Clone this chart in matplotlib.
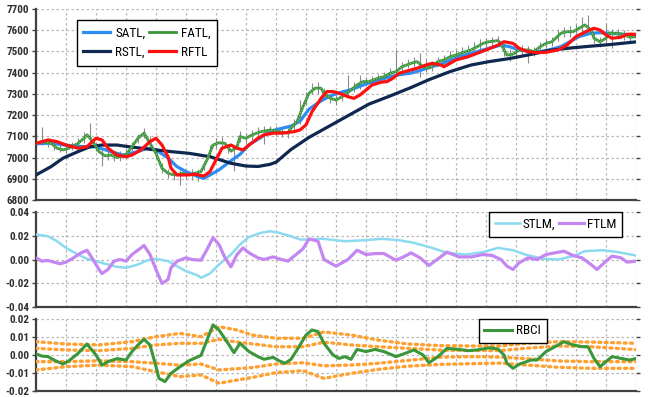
import matplotlib
matplotlib.use("Agg")
import matplotlib.pyplot as plt
from matplotlib import font_manager
from matplotlib.font_manager import FontProperties
from matplotlib.lines import Line2D

# ---------------- data (bar index 0..200) ----------------
bar_i = [0, 2, 4, 6, 8, 10, 12, 14, 16, 18, 20, 22, 24, 26, 28, 30, 32, 34, 36, 38,
         40, 42, 44, 46, 48, 50, 52, 54, 56, 58, 60, 62, 64, 66, 68, 70, 72, 74, 76, 78,
         80, 82, 84, 86, 88, 90, 92, 94, 96, 98, 100, 102, 104, 106, 108, 110, 112, 114, 116, 118,
         120, 122, 124, 126, 128, 130, 132, 134, 136, 138, 140, 142, 144, 146, 148, 150, 152, 154, 156, 158,
         160, 162, 164, 166, 168, 170, 172, 174, 176, 178, 180, 182, 184, 186, 188, 190, 192, 194, 196, 198, 200]
bar_lo = [7050, 7060, 7050, 7035, 7025, 7020, 7035, 7050, 7070, 7075, 7030, 6960, 6990, 6985, 6985, 6995, 7030, 7070, 7090, 7050,
          6995, 6925, 6905, 6895, 6870, 6900, 6895, 6888, 6940, 7010, 7045, 7045, 7020, 6935, 7075, 7070, 7085, 7095, 7065, 7105,
          7100, 7095, 7090, 7120, 7160, 7250, 7300, 7300, 7280, 7255, 7250, 7265, 7280, 7310, 7325, 7335, 7340, 7350, 7360, 7375,
          7385, 7405, 7420, 7425, 7380, 7405, 7410, 7430, 7440, 7450, 7460, 7470, 7480, 7490, 7505, 7520, 7525, 7530, 7480, 7455,
          7470, 7485, 7445, 7480, 7500, 7515, 7525, 7550, 7570, 7570, 7580, 7590, 7580, 7540, 7520, 7540, 7516, 7565, 7555, 7550, 7555]
bar_hi = [7085, 7145, 7085, 7075, 7060, 7060, 7075, 7090, 7120, 7165, 7075, 7035, 7030, 7025, 7030, 7040, 7075, 7110, 7140, 7100,
          7045, 6975, 6945, 6935, 6940, 6940, 6945, 6945, 6985, 7060, 7090, 7095, 7065, 7060, 7125, 7115, 7130, 7145, 7150, 7150,
          7150, 7145, 7140, 7180, 7270, 7310, 7350, 7356, 7330, 7300, 7295, 7310, 7389, 7355, 7390, 7380, 7385, 7395, 7405, 7420,
          7507, 7450, 7465, 7475, 7493, 7465, 7455, 7475, 7485, 7500, 7505, 7520, 7530, 7545, 7560, 7565, 7570, 7575, 7540, 7510,
          7520, 7530, 7525, 7520, 7545, 7560, 7570, 7600, 7615, 7620, 7630, 7662, 7672, 7590, 7570, 7634, 7605, 7605, 7600, 7590, 7590]

fatl_i = [0, 2, 5, 7, 9, 11, 14, 16, 17, 19, 21, 23, 25, 27, 30, 32, 34, 36, 37, 40,
          42, 44, 46, 49, 51, 53, 55, 57, 59, 61, 63, 65, 67, 68, 70, 72, 75, 78, 81, 84,
          85, 87, 89, 91, 93, 95, 96, 98, 100, 102, 105, 107, 109, 111, 114, 116, 118, 120, 122, 125,
          127, 129, 131, 134, 136, 138, 140, 142, 145, 147, 149, 151, 154, 155, 156, 157, 159, 161, 164, 166,
          168, 170, 172, 175, 177, 179, 181, 183, 185, 186, 188, 190, 191, 194, 196, 198, 200]
fatl_v = [7067, 7075, 7067, 7044, 7036, 7044, 7067, 7091, 7107, 7075, 7028, 7008, 7012, 7001, 7012, 7051, 7091, 7115, 7091, 7020,
          6950, 6926, 6918, 6926, 6918, 6926, 6934, 6989, 7059, 7070, 7067, 7030, 7050, 7099, 7091, 7107, 7122, 7130, 7122, 7115,
          7138, 7169, 7240, 7303, 7327, 7327, 7303, 7280, 7271, 7287, 7318, 7342, 7358, 7358, 7374, 7381, 7397, 7405, 7428, 7444,
          7452, 7428, 7421, 7452, 7460, 7475, 7483, 7494, 7507, 7522, 7538, 7546, 7551, 7538, 7507, 7483, 7487, 7507, 7507, 7499,
          7522, 7538, 7546, 7586, 7593, 7593, 7609, 7625, 7601, 7562, 7546, 7562, 7586, 7586, 7578, 7567, 7570]

satl_i = [0, 5, 10, 15, 20, 25, 29, 34, 37, 40, 44, 47, 50, 54, 56, 58, 61, 65, 68, 71,
          75, 78, 82, 85, 88, 91, 95, 98, 101, 105, 108, 111, 115, 118, 121, 125, 128, 131, 135, 138,
          141, 145, 148, 151, 155, 158, 161, 165, 168, 171, 175, 178, 181, 185, 188, 191, 195, 198, 200]
satl_v = [7065, 7068, 7058, 7052, 7050, 7028, 7012, 7028, 7044, 7036, 6998, 6957, 6934, 6910, 6902, 6918, 6942, 6985, 7015, 7060,
          7095, 7124, 7138, 7148, 7171, 7228, 7267, 7290, 7305, 7320, 7336, 7352, 7367, 7381, 7390, 7398, 7410, 7425, 7440, 7458,
          7475, 7491, 7503, 7515, 7530, 7522, 7507, 7499, 7499, 7507, 7523, 7546, 7570, 7586, 7588, 7586, 7582, 7578, 7578]

rstl_i = [0, 5, 9, 14, 18, 22, 27, 31, 38, 45, 51, 58, 65, 70, 74, 78, 80, 85, 91, 98,
          105, 111, 118, 125, 131, 138, 145, 151, 158, 165, 171, 178, 185, 191, 200]
rstl_v = [6918, 6957, 6997, 7028, 7051, 7059, 7059, 7051, 7039, 7028, 7020, 7004, 6973, 6960, 6958, 6968, 6978, 7038, 7095, 7150,
          7205, 7252, 7290, 7330, 7367, 7405, 7436, 7452, 7467, 7486, 7505, 7516, 7525, 7532, 7545]

rftl_i = [0, 4, 7, 10, 14, 17, 20, 22, 24, 27, 30, 32, 35, 38, 40, 42, 44, 45, 47, 50,
          53, 56, 58, 60, 62, 65, 67, 69, 71, 74, 76, 79, 82, 86, 88, 90, 92, 95, 97, 99,
          101, 104, 106, 108, 110, 112, 115, 117, 119, 121, 124, 127, 130, 132, 135, 136, 138, 140, 144, 147,
          150, 154, 156, 159, 161, 164, 167, 170, 174, 177, 180, 184, 186, 188, 190, 192, 195, 197, 200]
rftl_v = [7067, 7083, 7075, 7059, 7044, 7051, 7091, 7083, 7044, 7012, 7004, 7012, 7036, 7075, 7091, 7059, 7004, 6950, 6918, 6918,
          6921, 6913, 6934, 6989, 7044, 7059, 7044, 7036, 7059, 7091, 7107, 7115, 7115, 7122, 7130, 7154, 7216, 7279, 7311, 7311,
          7303, 7287, 7279, 7295, 7318, 7342, 7355, 7358, 7374, 7397, 7409, 7421, 7436, 7444, 7436, 7428, 7444, 7460, 7475, 7491,
          7507, 7530, 7546, 7538, 7515, 7499, 7494, 7496, 7507, 7530, 7570, 7598, 7609, 7601, 7578, 7562, 7567, 7581, 7581]

stlm_i = [0, 4, 7, 10, 14, 17, 20, 24, 27, 30, 34, 37, 40, 44, 47, 50, 54, 55, 58, 61,
          65, 68, 71, 75, 78, 81, 85, 88, 91, 95, 103, 110, 115, 121, 126, 132, 137, 143, 149, 154,
          159, 163, 169, 174, 179, 183, 189, 194, 200]
stlm_v = [0.021, 0.0196, 0.0154, 0.0098, 0.0042, 0.0006, -0.0014, -0.0042, -0.0062, -0.007, -0.0042, -0.0008, 0.0006, -0.0014, -0.0056, -0.0098, -0.0135, -0.0154, -0.0118, -0.0042,
          0.0042, 0.0126, 0.019, 0.0225, 0.0238, 0.0225, 0.0196, 0.0168, 0.0168, 0.0176, 0.0154, 0.0163, 0.0174, 0.0163, 0.014, 0.0098, 0.0056, 0.0042, 0.0062, 0.0098,
          0.0078, 0.0042, 0.0006, 0.0, 0.0028, 0.007, 0.0078, 0.0062, 0.0034]

ftlm_i = [0, 2, 4, 6, 8, 10, 12, 15, 17, 19, 21, 22, 24, 26, 28, 30, 32, 35, 36, 38,
          40, 42, 44, 45, 47, 50, 52, 55, 57, 59, 61, 63, 65, 67, 69, 71, 74, 76, 79, 81,
          84, 86, 89, 91, 94, 96, 100, 102, 104, 107, 110, 113, 116, 120, 123, 125, 128, 131, 134, 137,
          141, 145, 149, 152, 155, 157, 159, 161, 164, 167, 170, 173, 176, 179, 182, 185, 187, 190, 192, 195, 197, 200]
ftlm_v = [0.0014, -0.0014, -0.0008, -0.0022, -0.0036, -0.0022, 0.0006, 0.0056, 0.0078, 0.0, -0.0084, -0.0118, -0.0084, -0.0014, 0.0, -0.0014, 0.0042, 0.0098, 0.0118, 0.0042,
          -0.0084, -0.0202, -0.0168, -0.007, -0.0014, 0.0014, 0.0, -0.0006, 0.0084, 0.0183, 0.0126, 0.0014, -0.0062, 0.0042, 0.0098, 0.0056, 0.0014, 0.0, 0.0022, 0.0006,
          -0.0014, 0.0028, 0.009, 0.0174, 0.0154, 0.0, -0.0056, -0.0028, 0.0, 0.0078, 0.0042, 0.005, 0.005, -0.0006, 0.0028, 0.0056, 0.0014, -0.005, 0.0006, 0.0062,
          0.0022, 0.0022, 0.0042, 0.0034, 0.0, -0.0056, -0.0084, -0.0028, 0.0014, 0.0, 0.0042, 0.0056, 0.007, 0.0034, 0.0014, -0.0042, -0.0084, -0.0014, 0.0028, 0.0014, -0.0022, -0.0014]

rbci_i = [0, 2, 4, 6, 9, 11, 14, 17, 20, 22, 24, 27, 30, 32, 34, 36, 38, 40, 41, 43,
          45, 48, 51, 55, 57, 59, 61, 64, 66, 68, 71, 74, 76, 79, 81, 83, 85, 87, 90, 92,
          94, 96, 99, 101, 103, 105, 107, 110, 113, 116, 120, 123, 126, 129, 131, 134, 137, 141, 144, 147,
          151, 154, 156, 157, 159, 161, 165, 167, 170, 173, 176, 179, 182, 184, 186, 188, 190, 192, 195, 198, 200]
rbci_v = [0.0006, -0.0006, -0.0009, -0.0028, -0.005, -0.0032, 0.0009, 0.0061, 0.0, -0.0056, -0.0037, -0.002, -0.0028, 0.0019, 0.0056, 0.0087, 0.0056, -0.0065, -0.013, -0.0148,
          -0.0102, -0.0065, -0.0032, -0.0002, 0.0083, 0.0167, 0.0139, 0.0065, 0.0013, 0.0065, 0.0019, -0.0009, -0.0024, -0.0013, -0.0032, -0.0046, -0.0024, 0.0028, 0.0111, 0.0139,
          0.013, 0.0065, 0.0, -0.0019, -0.0009, -0.0024, 0.0031, 0.0019, 0.0031, 0.0019, -0.0009, 0.0009, 0.0028, 0.0, -0.0043, -0.0009, 0.0037, 0.0031, 0.0024, 0.0028,
          0.004, 0.0033, 0.0, -0.0046, -0.0074, -0.0052, -0.0028, -0.0028, 0.0019, 0.0046, 0.0074, 0.0056, 0.0046, 0.0046, -0.0019, -0.0065, -0.0037, -0.0009, -0.0019, -0.0028, -0.0019]

band_i = [0, 10, 21, 32, 40, 48, 55, 61, 67, 72, 80, 89, 96, 105, 114, 124, 135, 146, 155, 163, 174, 185, 200]
band_up2 = [0.0074, 0.0061, 0.0056, 0.0074, 0.0102, 0.012, 0.0102, 0.0157, 0.0139, 0.0111, 0.0093, 0.0093, 0.0128, 0.0111, 0.0083, 0.0061, 0.0052, 0.005, 0.005, 0.0065, 0.0074, 0.0072, 0.0065]
band_up1 = [0.0037, 0.0028, 0.0024, 0.0037, 0.0056, 0.0065, 0.0065, 0.0087, 0.0072, 0.0062, 0.0046, 0.0046, 0.0071, 0.0056, 0.0046, 0.0037, 0.0027, 0.0025, 0.0025, 0.0037, 0.005, 0.0046, 0.003]
band_dn1 = [-0.0037, -0.0037, -0.0032, -0.0037, -0.0046, -0.0056, -0.005, -0.0083, -0.0076, -0.007, -0.005, -0.0043, -0.006, -0.0056, -0.0046, -0.003, -0.0012, -0.0009, -0.0012, -0.002, -0.0033, -0.0037, -0.0037]
band_dn2 = [-0.0083, -0.0065, -0.0056, -0.0065, -0.0093, -0.012, -0.0111, -0.0157, -0.0139, -0.0125, -0.0098, -0.0087, -0.013, -0.0102, -0.008, -0.0062, -0.0052, -0.0048, -0.0045, -0.0055, -0.0068, -0.0074, -0.0074]

price_ticks = [6800, 6900, 7000, 7100, 7200, 7300, 7400, 7500, 7600, 7700]
mid_ticks = [-0.04, -0.02, 0.0, 0.02, 0.04]
low_ticks = [-0.02, -0.01, 0.0, 0.01, 0.02]

# ---------------- fonts: look for a narrow / condensed face ----------------
def find_condensed(bold):
    best = None
    for f in font_manager.fontManager.ttflist:
        if not f.fname.lower().endswith(('.ttf', '.otf')):
            continue
        nm = f.name + ' ' + f.fname
        cond = ('Narrow' in nm or 'Condensed' in nm or str(f.stretch) in ('condensed', 'semi-condensed', '75', '87'))
        if not cond or f.style != 'normal':
            continue
        w = f.weight if isinstance(f.weight, int) else (700 if 'bold' in str(f.weight) else 400)
        isbold = w >= 600
        if isbold != bold:
            continue
        score = 0
        if 'Liberation' in nm:
            score = 3
        elif 'Roboto' in nm:
            score = 2
        elif 'DejaVu' in nm:
            score = 1
        if best is None or score > best[0]:
            best = (score, f.fname)
    return best[1] if best else None


reg_path = find_condensed(False)
bold_path = find_condensed(True) or reg_path


def fp(size, bold=False):
    path = bold_path if bold else reg_path
    if path:
        return FontProperties(fname=path, size=size)
    return FontProperties(family='DejaVu Sans', size=size * 0.85,
                          weight='bold' if bold else 'normal')


# ---------------- style ----------------
C_SATL = '#2f8cf0'
C_FATL = '#3a963a'
C_RSTL = '#0e2850'
C_RFTL = '#ff1010'
C_STLM = '#8cdaf0'
C_FTLM = '#c487f2'
C_RBCI = '#3a963a'
C_BAND = '#ffa030'
GRID = '#b8b8b8'
SPINE = '#404040'

fig = plt.figure(figsize=(6.5, 3.97), dpi=100)
fig.patch.set_facecolor('white')

W = 650.0
H = 397.0
left = 36 / W
width = 600 / W


def make_ax(top_px, bot_px, ticks, labels, ylim):
    ax = fig.add_axes([left, 1 - bot_px / H, width, (bot_px - top_px) / H])
    ax.set_xlim(0, 200)
    ax.set_ylim(*ylim)
    ax.set_xticks(range(0, 201, 10))
    ax.tick_params(axis='x', length=0, labelbottom=False)
    ax.set_yticks(ticks)
    ax.set_yticklabels(labels)
    ax.tick_params(axis='y', length=3, width=1, color=SPINE,
                   labelcolor='#303030', pad=2, right=True, left=True)
    for lab in ax.get_yticklabels():
        lab.set_fontproperties(fp(8, bold=True))
    ax.grid(True, color=GRID, linestyle=(0, (2, 2)), linewidth=0.9)
    ax.set_axisbelow(True)
    ax.spines['top'].set_visible(False)
    ax.spines['right'].set_visible(False)
    ax.spines['left'].set_color(SPINE)
    ax.spines['left'].set_linewidth(1.6)
    ax.spines['bottom'].set_color(SPINE)
    ax.spines['bottom'].set_linewidth(1.6)
    return ax


LEG_SIZE = 9.5

# top panel
ax1 = make_ax(9, 200, price_ticks, [str(v) for v in price_ticks], (6800, 7700))
ax1.vlines(bar_i, bar_lo, bar_hi, color='#8a8a8a', linewidth=0.8, zorder=2)
ax1.plot(satl_i, satl_v, color=C_SATL, lw=2.3, zorder=3, solid_capstyle='round')
ax1.plot(rstl_i, rstl_v, color=C_RSTL, lw=2.3, zorder=4, solid_capstyle='round')
ax1.plot(fatl_i, fatl_v, color=C_FATL, lw=2.0, zorder=5, solid_capstyle='round')
ax1.plot(fatl_i, fatl_v, color='#9ad09a', lw=0.7, ls=(0, (1, 2)), zorder=5)
ax1.plot(rftl_i, rftl_v, color=C_RFTL, lw=2.3, zorder=6, solid_capstyle='round')

h1 = [Line2D([], [], color=C_SATL, lw=2.3), Line2D([], [], color=C_RSTL, lw=2.3),
      Line2D([], [], color=C_FATL, lw=2.0), Line2D([], [], color=C_RFTL, lw=2.3)]
leg1 = ax1.legend(h1, ['SATL,', 'RSTL,', 'FATL,', 'RFTL'], ncol=2, loc='upper left',
                  bbox_to_anchor=(0.068, 0.94), prop=fp(LEG_SIZE), frameon=True, fancybox=False,
                  edgecolor='black', framealpha=1, handlelength=2.0, handletextpad=0.4,
                  columnspacing=0.3, labelspacing=0.45, borderpad=0.5, borderaxespad=0)
leg1.get_frame().set_linewidth(1.0)
leg1.set_zorder(10)

# middle panel
ax2 = make_ax(212, 307, mid_ticks, [f"{v:.2f}" for v in mid_ticks], (-0.04, 0.04))
ax2.plot(stlm_i, stlm_v, color=C_STLM, lw=1.8, zorder=3)
ax2.plot(ftlm_i, ftlm_v, color=C_FTLM, lw=2.3, zorder=4, solid_capstyle='round')
h2 = [Line2D([], [], color=C_STLM, lw=1.8), Line2D([], [], color=C_FTLM, lw=2.3)]
leg2 = ax2.legend(h2, ['STLM,', 'FTLM'], ncol=2, loc='upper left',
                  bbox_to_anchor=(0.755, 1.0), prop=fp(LEG_SIZE), frameon=True, fancybox=False,
                  edgecolor='black', framealpha=1, handlelength=1.9, handletextpad=0.2,
                  columnspacing=0.3, borderpad=0.45, borderaxespad=0)
leg2.get_frame().set_linewidth(1.0)

# bottom panel
ax3 = make_ax(319, 391, low_ticks, [f"{v:.2f}" for v in low_ticks], (-0.02, 0.02))
for band in (band_up2, band_up1, band_dn1, band_dn2):
    ax3.plot(band_i, band, color=C_BAND, lw=2.4, ls=(0, (0.6, 1.3)),
             dash_capstyle='round', zorder=3)
ax3.plot(rbci_i, rbci_v, color=C_RBCI, lw=2.2, zorder=4, solid_capstyle='round')
h3 = [Line2D([], [], color=C_RBCI, lw=2.2)]
leg3 = ax3.legend(h3, ['RBCI'], loc='upper left', bbox_to_anchor=(0.738, 1.0),
                  prop=fp(LEG_SIZE), frameon=True, fancybox=False, edgecolor='black',
                  framealpha=1, handlelength=2.1, handletextpad=0.35, borderpad=0.4,
                  borderaxespad=0)
leg3.get_frame().set_linewidth(1.0)

fig.savefig('out.png', dpi=100, facecolor='white')
